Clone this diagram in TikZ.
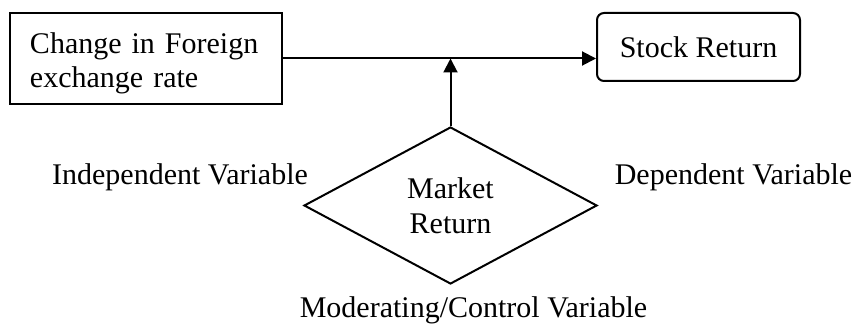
\documentclass[tikz,border=0pt]{standalone}
\usepackage{fontspec}
\setmainfont{Liberation Serif}
\usetikzlibrary{shapes.geometric,arrows.meta}

\begin{document}
\begin{tikzpicture}[x=0.4pt,y=-0.4pt,
    txt/.style={font=\fontsize{12}{13.8}\selectfont},
    varbox/.style={txt, draw, line width=0.8pt, inner sep=0pt},
    link/.style={line width=0.8pt, -{Triangle[length=5.6pt,width=5.6pt]}}]
        % Fix the page to the size of the reference
        \useasboundingbox (0,0) rectangle (858,325);

        % Independent variable as a plain box
        \node[varbox, minimum width=108.8pt, minimum height=36.4pt, text width=92.8pt, align=left] (fx) at (146,58.5) {\rule{0pt}{12pt}Change in Foreign\\exchange rate};
        % Dependent variable as a rounded box
        \node[varbox, rounded corners=2.8pt, minimum width=81.2pt, minimum height=27.2pt] (sr) at (698.5,47) {Stock Return};
        % Moderating variable as a diamond
        \node[varbox, diamond, minimum width=117.2pt, minimum height=62.8pt, align=center] (mr) at (450.5,205.5) {Market\\Return};

        % Captions of the three variables
        \node[txt, anchor=base] (ivar) at (180,185) {Independent Variable};
        \node[txt, anchor=base] (dvar) at (733.5,185) {Dependent Variable};
        \node[txt, anchor=base] (mvar) at (473.5,317) {Moderating/Control Variable};

        % Draw arrows between the variables
        \coordinate (join) at (mr.north |- fx.east);
        \draw[link] (fx.east) -- (fx.east -| sr.west);
        \draw[link] (mr.north) -- (join);

\end{tikzpicture}
\end{document}
